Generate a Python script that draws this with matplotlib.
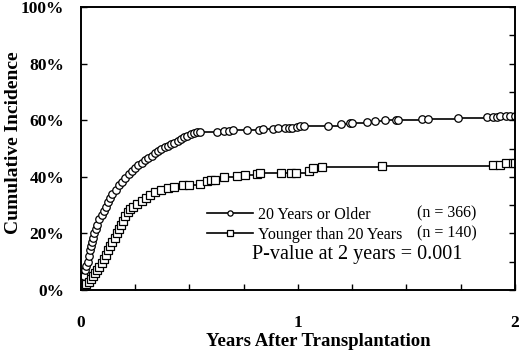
import matplotlib
matplotlib.use('Agg')
import matplotlib.pyplot as plt

# Dados (anos, incidência %)
t_old = [0.0, 0.005, 0.01, 0.015, 0.02, 0.025, 0.03, 0.035, 0.04, 0.045, 0.05, 0.055,
         0.06, 0.07, 0.075, 0.085, 0.095, 0.105, 0.115, 0.125, 0.135, 0.145, 0.16, 0.175,
         0.19, 0.205, 0.22, 0.235, 0.25, 0.265, 0.28, 0.295, 0.31, 0.325, 0.34, 0.355,
         0.37, 0.385, 0.40, 0.415, 0.43, 0.445, 0.46, 0.475, 0.49, 0.505, 0.52, 0.535,
         0.55, 0.625, 0.66, 0.68, 0.70, 0.765, 0.82, 0.84, 0.885, 0.91, 0.94, 0.96,
         0.975, 0.995, 1.01, 1.03, 1.14, 1.20, 1.24, 1.25, 1.32, 1.355, 1.40, 1.45,
         1.46, 1.57, 1.60, 1.74, 1.87, 1.90, 1.92, 1.93, 1.96, 1.98, 2.0]
v_old = [0, 1.5, 3, 5, 7, 8.5, 10, 12, 14, 15.5, 17, 18.5,
         20, 21.5, 23, 25, 26.5, 28, 29.5, 31, 32.5, 34, 35.5, 37,
         38, 39.5, 41, 42, 43, 44, 45, 46, 46.8, 47.5, 48.3, 49,
         49.8, 50.5, 51, 51.5, 52, 52.8, 53.3, 54, 54.5, 55, 55.5, 55.8,
         56, 56, 56.2, 56.3, 56.4, 56.5, 56.6, 56.9, 57, 57.1, 57.2, 57.3,
         57.4, 57.6, 57.8, 58, 58.1, 58.5, 58.9, 59, 59.5, 59.7, 60.1, 60.2,
         60.2, 60.3, 60.5, 60.7, 61, 61, 61.2, 61.5, 61.5, 61.5, 61.5]

t_young = [0.0, 0.005, 0.015, 0.025, 0.035, 0.045, 0.055, 0.065, 0.075, 0.085, 0.095,
           0.105, 0.115, 0.125, 0.135, 0.145, 0.155, 0.165, 0.175, 0.185, 0.195, 0.205,
           0.215, 0.225, 0.24, 0.26, 0.28, 0.30, 0.32, 0.34, 0.37, 0.40, 0.43, 0.47,
           0.50, 0.55, 0.58, 0.60, 0.62, 0.66, 0.72, 0.755, 0.81, 0.825, 0.92, 0.97,
           0.99, 1.05, 1.07, 1.11, 1.39, 1.90, 1.93, 1.96, 1.99, 2.0]
v_young = [0, 0.5, 1, 2, 3, 4, 5, 6, 7, 8, 9.5,
           11, 12.5, 14, 15.5, 17, 18.5, 20, 21.5, 23, 24.5, 26,
           27.5, 28.5, 29.5, 30.5, 31.5, 32.5, 33.5, 34.5, 35.5, 36, 36.5, 37,
           37, 37.5, 38.5, 38.8, 39, 40, 40.3, 40.6, 41, 41.3, 41.5, 41.5,
           41.5, 42, 43, 43.5, 43.8, 44, 44, 45, 45, 45]

x_ticks = [0, 0.25, 0.5, 0.75, 1, 1.25, 1.5, 1.75, 2]
x_labels = ['0', '', '', '', '1', '', '', '', '2']
y_ticks = [0, 20, 40, 60, 80, 100]
y_labels = ['0%', '20%', '40%', '60%', '80%', '100%']

plt.rcParams['font.family'] = ['Liberation Serif', 'DejaVu Serif']

fig = plt.figure(figsize=(5.2, 3.51), dpi=100)
ax = fig.add_axes([0.1558, 0.1738, 0.8342, 0.8062])

l1, = ax.plot(t_old, v_old, drawstyle='steps-post', color='black', lw=1.2,
              marker='o', ms=5.4, mfc='white', mec='black', mew=0.9,
              label='20 Years or Older')
l2, = ax.plot(t_young, v_young, drawstyle='steps-post', color='black', lw=1.2,
              marker='s', ms=5.4, mfc='white', mec='black', mew=0.9,
              label='Younger than 20 Years')

ax.set_xlim(0, 2)
ax.set_ylim(0, 100)

ax.set_xticks(x_ticks)
ax.set_xticklabels(x_labels, fontsize=12.5, fontweight='bold')
ax.set_yticks(y_ticks)
ax.set_yticklabels(y_labels, fontsize=12.5, fontweight='bold')
ax.tick_params(axis='x', direction='in', length=4, width=1, pad=18)
ax.tick_params(axis='y', direction='in', length=4, width=1, pad=12)

# ticks do lado direito a cada 10%
ax2 = ax.twinx()
ax2.set_ylim(0, 100)
ax2.set_yticks(range(0, 101, 10))
ax2.set_yticklabels([])
ax2.tick_params(axis='y', direction='in', length=4, width=1)

for a in (ax, ax2):
    for s in a.spines.values():
        s.set_linewidth(1.2)

ax.set_xlabel('Years After Transplantation', fontsize=13.5, fontweight='bold')
ax.xaxis.set_label_coords(0.546, -0.152)
ax.set_ylabel('Cumulative Incidence', fontsize=14, fontweight='bold')
ax.yaxis.set_label_coords(-0.136, 0.52)

leg = ax.legend(handles=[l1, l2], loc='upper left', bbox_to_anchor=(0.29, 0.295),
                frameon=False, fontsize=11.5, handlelength=2.9, handletextpad=0.3,
                labelspacing=0.25, borderpad=0, borderaxespad=0, markerscale=0.7)
ax.text(0.774, 0.272, '(n = 366)', transform=ax.transAxes, fontsize=11.5, va='center')
ax.text(0.774, 0.201, '(n = 140)', transform=ax.transAxes, fontsize=11.5, va='center')
ax.text(0.394, 0.125, 'P-value at 2 years = 0.001', transform=ax.transAxes,
        fontsize=14.5, va='center')

fig.savefig('out.png', dpi=100)
